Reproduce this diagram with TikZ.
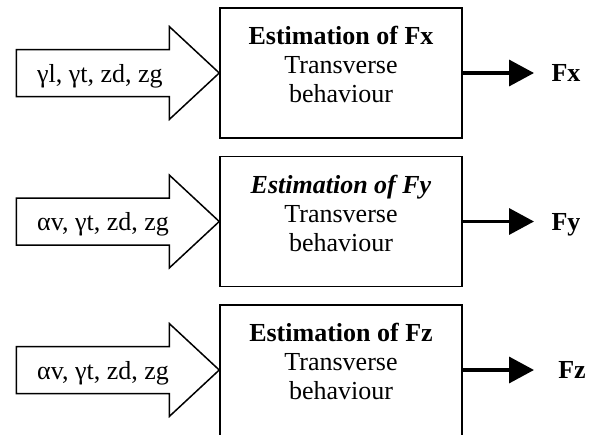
\documentclass[tikz,border=0pt]{standalone}
\usepackage{fontspec}
\setmainfont{Liberation Serif}
\usetikzlibrary{arrows.meta, positioning}

\begin{document}
\begin{tikzpicture}[x=1pt,y=-1pt,
  estbox/.style={draw,line width=1.5pt,minimum width=242pt,anchor=north},
  esttext/.style={align=center,inner sep=0pt,font=\fontsize{26}{29}\selectfont},
  inlabel/.style={anchor=west,inner sep=0pt,text height=18pt,text depth=0pt,
    font=\fontsize{26}{29}\selectfont},
  outlabel/.style={inner sep=0pt,text height=17pt,text depth=0pt,
    font=\fontsize{26}{29}\selectfont\bfseries},
  blockarrow/.style={draw,fill=white,line width=1.5pt,line join=miter},
  outarrow/.style={line width=3.5pt,-{Triangle[length=25pt,width=26pt]}}]
  % page 599 x 434, y runs downwards
  \useasboundingbox (0,0) rectangle (599,434);
  \clip (0,0) rectangle (599,434);

  % one row per force: box, block arrow in, arrow out
  % last box runs off the bottom of the page
  \foreach \i/\yc/\bh/\ins/\ttl/\outtxt/\lx in {
      1/73/130/{γl, γt, zd, zg}/{\textbf{Estimation of Fx}}/Fx/566,
      2/221.5/130/{αv, γt, zd, zg}/{\textbf{\textit{Estimation of Fy}}}/Fy/566,
      3/370/150/{αv, γt, zd, zg}/{\textbf{Estimation of Fz}}/Fz/572}{
    \node[estbox, minimum height=\bh] (box\i) at (341,{\yc-66}) {};
    \node[esttext, below=19pt of box\i.north] (txt\i)
      {\ttl\\Transverse\\behaviour};
    \coordinate (tip\i) at (534,\yc);
    % block arrow, tip on the box
    \draw[blockarrow] (box\i.west |- tip\i) -- ++(-50,-46.5) -- ++(0,23)
      -- ++(-153,0) -- ++(0,47) -- ++(153,0) -- ++(0,23) -- cycle;
    \node[inlabel] (in\i) at (37,\yc) {\ins};
    % output
    \draw[outarrow] (box\i.east |- tip\i) -- (tip\i);
    \node[outlabel] (out\i) at (\lx,\yc) {\outtxt};
  }
\end{tikzpicture}
\end{document}
